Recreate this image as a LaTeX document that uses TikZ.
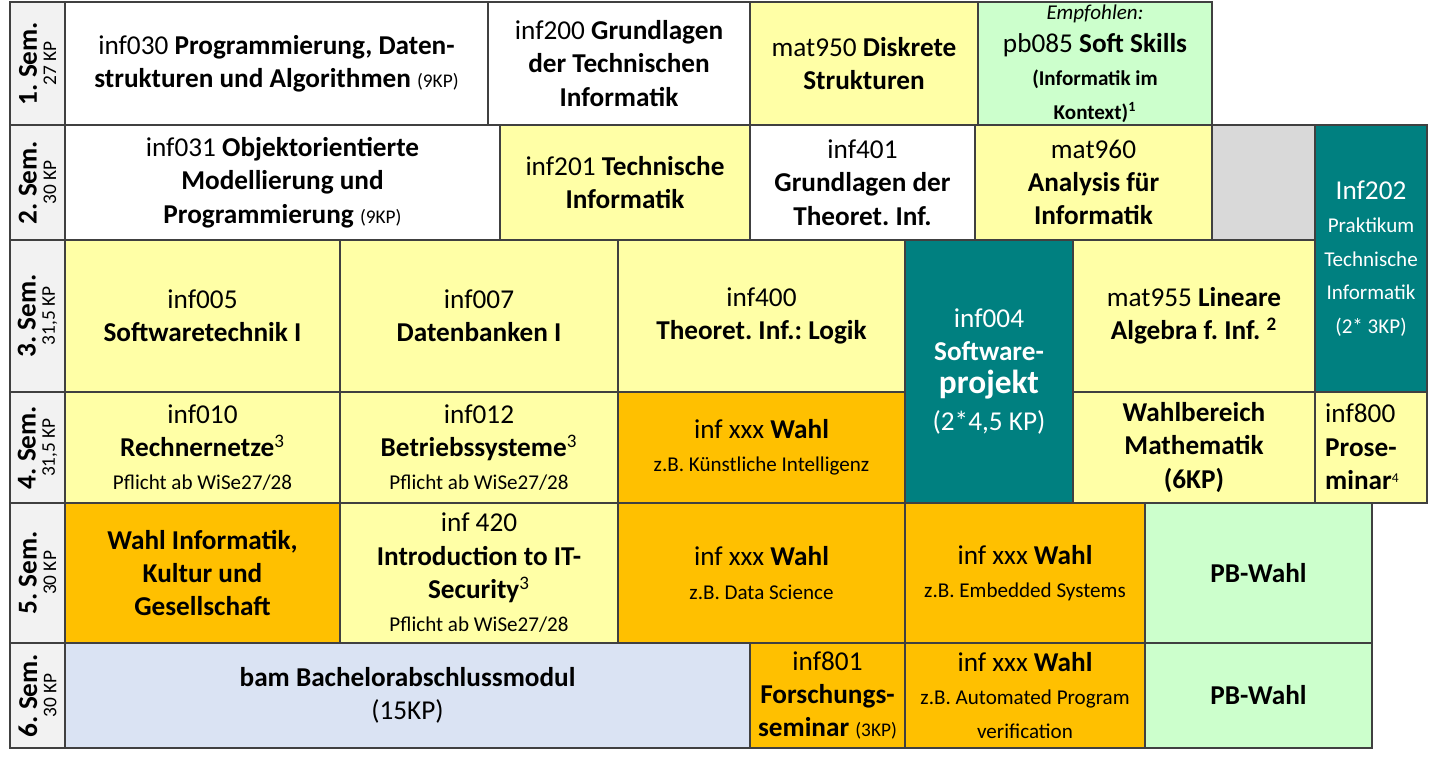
\documentclass[tikz,border=0pt]{standalone}
\usepackage{fontspec}
\setmainfont{Carlito}
\frenchspacing
\definecolor{gelb}{HTML}{FFFFA6}
\definecolor{orange}{HTML}{FFC000}
\definecolor{teal}{HTML}{008080}
\definecolor{gruen}{HTML}{CCFFCC}
\definecolor{blau}{HTML}{DAE3F3}
\definecolor{grau}{HTML}{D9D9D9}
\definecolor{semgrau}{HTML}{F2F2F2}
\tikzset{
  feld/.style={draw=black!75,line width=0.8pt},
  pflicht/.style={feld,fill=white},
  gelbfeld/.style={feld,fill=gelb},
  wahl/.style={feld,fill=orange},
  praxis/.style={feld,fill=teal},
  pb/.style={feld,fill=gruen},
  bam/.style={feld,fill=blau},
  leer/.style={feld,fill=grau},
  sem/.style={feld,fill=semgrau}
}
% Modulfeld: Name, x1, y1, x2, y2, Stil, Textfarbe, Text
\newcommand\modul[8]{%
  \draw[#6] (#2,#3) rectangle (#4,#5);
  \node[align=center,text=#7,font=\fontsize{15.5}{19}\selectfont]
    (#1) at ({(#2+#4)/2},{(#3+#5)/2}) {#8};}
\newcommand\klein{\fontsize{11}{14}\selectfont}
\newcommand\mittel{\fontsize{12}{15}\selectfont}
\newcommand\hoch[1]{\textsuperscript{#1}}
\begin{document}
\begin{tikzpicture}[x=0.02cm,y=-0.02cm]
  \useasboundingbox (0,0) rectangle (1440,760);
  % Semester
  \foreach \nr/\ya/\yb/\kp in {1/2/125/27 KP,2/125/240/30 KP,3/240/392/31{,}5 KP,
                               4/392/503/31{,}5 KP,5/503/643/30 KP,6/643/748/30 KP} {
    \draw[sem] (10,\ya) rectangle (65,\yb);
    \node[rotate=90,align=center,font=\fontsize{15.5}{13}\selectfont\bfseries]
      (sem\nr) at (37.5,{(\ya+\yb)/2}) {\nr. Sem.\\[-2pt]{\klein\mdseries \kp}};
  }
  % 1. Semester
  \modul{m030}{65}{2}{488}{125}{pflicht}{black}{inf030 \textbf{Programmierung, Daten-}\\\textbf{strukturen und Algorithmen} {\klein(9KP)}}
  \modul{m200}{488}{2}{750}{125}{pflicht}{black}{inf200 \textbf{Grundlagen}\\\textbf{der Technischen}\\\textbf{Informatik}}
  \modul{m950}{750}{2}{978}{125}{gelbfeld}{black}{mat950 \textbf{Diskrete}\\\textbf{Strukturen}}
  \modul{pb085}{978}{2}{1212}{125}{pb}{black}{{\mittel\itshape Empfohlen:}\\pb085 \textbf{Soft Skills}\\{\mittel\bfseries(Informatik im}\\{\mittel\bfseries Kontext)\hoch{1}}}
  % 2. Semester
  \modul{m031}{65}{125}{500}{240}{pflicht}{black}{inf031 \textbf{Objektorientierte}\\\textbf{Modellierung und}\\\textbf{Programmierung} {\klein(9KP)}}
  \modul{m201}{500}{125}{750}{240}{gelbfeld}{black}{inf201 \textbf{Technische}\\\textbf{Informatik}}
  \modul{m401}{750}{125}{975}{240}{pflicht}{black}{inf401\\\textbf{Grundlagen der}\\\textbf{Theoret. Inf.}}
  \modul{m960}{975}{125}{1212}{240}{gelbfeld}{black}{mat960\\\textbf{Analysis für}\\\textbf{Informatik}}
  \draw[leer] (1212,125) rectangle (1315,240);
  \modul{m202}{1315}{125}{1427}{392}{praxis}{white}{Inf202\\{\mittel Praktikum}\\{\mittel Technische}\\{\mittel Informatik}\\{\mittel (2* 3KP)}}
  % 3. Semester
  \modul{m005}{65}{240}{340}{392}{gelbfeld}{black}{inf005\\\textbf{Softwaretechnik I}}
  \modul{m007}{340}{240}{618}{392}{gelbfeld}{black}{inf007\\\textbf{Datenbanken I}}
  \modul{m400}{618}{240}{905}{392}{gelbfeld}{black}{inf400\\\textbf{Theoret. Inf.: Logik}}
  \modul{m004}{905}{240}{1073}{503}{praxis}{white}{inf004\\\textbf{Software-}\\{\fontsize{19}{22}\selectfont\bfseries projekt}\\[2pt](2*4,5 KP)}
  \modul{m955}{1073}{240}{1315}{392}{gelbfeld}{black}{mat955 \textbf{Lineare}\\\textbf{Algebra f. Inf. \hoch{2}}}
  % 4. Semester
  \modul{m010}{65}{392}{340}{503}{gelbfeld}{black}{inf010\\\textbf{Rechnernetze}\hoch{3}\\{\mittel Pflicht ab WiSe27/28}}
  \modul{m012}{340}{392}{618}{503}{gelbfeld}{black}{inf012\\\textbf{Betriebssysteme}\hoch{3}\\{\mittel Pflicht ab WiSe27/28}}
  \modul{w4}{618}{392}{905}{503}{wahl}{black}{inf xxx \textbf{Wahl}\\{\mittel z.B. Künstliche Intelligenz}}
  \modul{mathe}{1073}{392}{1315}{503}{gelbfeld}{black}{\textbf{Wahlbereich}\\\textbf{Mathematik}\\\textbf{(6KP)}}
  \draw[gelbfeld] (1315,392) rectangle (1427,503);
  \node[align=left,font=\fontsize{15.5}{19}\selectfont,anchor=west] (m800) at (1319,447) {inf800\\\textbf{Prose-}\\\textbf{minar}{\klein\hoch{4}}};
  % 5. Semester
  \modul{wkult}{65}{503}{340}{643}{wahl}{black}{\textbf{Wahl Informatik,}\\\textbf{Kultur und}\\\textbf{Gesellschaft}}
  \modul{m420}{340}{503}{618}{643}{gelbfeld}{black}{inf 420\\\textbf{Introduction to IT-}\\\textbf{Security}\hoch{3}\\{\mittel Pflicht ab WiSe27/28}}
  \modul{w5a}{618}{503}{905}{643}{wahl}{black}{inf xxx \textbf{Wahl}\\{\mittel z.B. Data Science}}
  \modul{w5b}{905}{503}{1145}{643}{wahl}{black}{inf xxx \textbf{Wahl}\\{\mittel z.B. Embedded Systems}}
  \modul{pb5}{1145}{503}{1372}{643}{pb}{black}{\textbf{PB-Wahl}}
  % 6. Semester
  \modul{bam}{65}{643}{750}{748}{bam}{black}{\textbf{bam Bachelorabschlussmodul}\\(15KP)}
  \modul{m801}{750}{643}{905}{748}{wahl}{black}{inf801\\\textbf{Forschungs-}\\\textbf{seminar} {\klein(3KP)}}
  \modul{w6}{905}{643}{1145}{748}{wahl}{black}{inf xxx \textbf{Wahl}\\{\mittel z.B. Automated Program}\\{\mittel verification}}
  \modul{pb6}{1145}{643}{1372}{748}{pb}{black}{\textbf{PB-Wahl}}
\end{tikzpicture}
\end{document}
